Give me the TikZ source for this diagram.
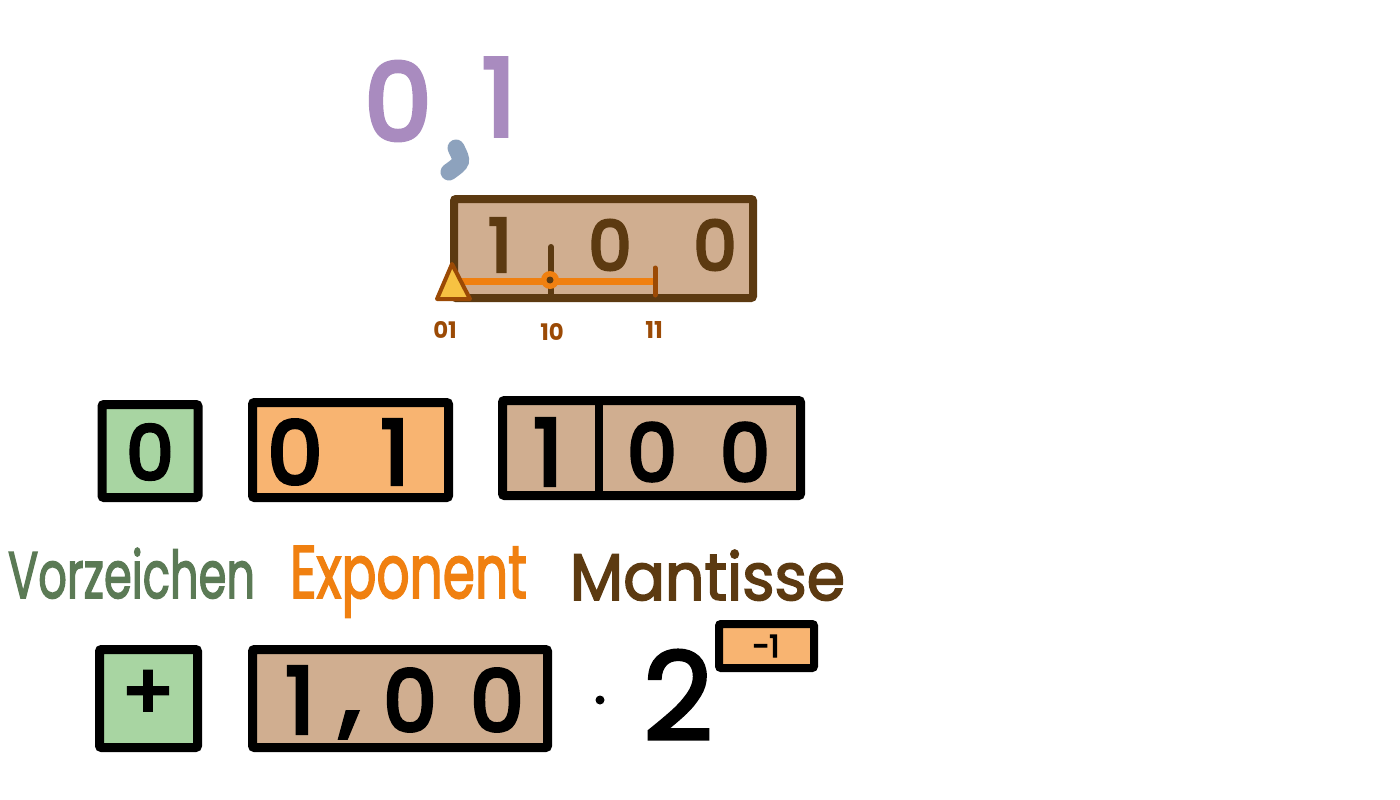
\documentclass[tikz,border=0pt]{standalone}
\usepackage{fontspec}
\setmainfont{Poppins}
\newfontfamily\hand[RawFeature={embolden=4.5}]{Poppins}
\newfontfamily\handt[RawFeature={embolden=2.5}]{Poppins}
\newfontfamily\handl[RawFeature={embolden=2.5}]{Poppins}
\usepackage{graphicx}
\definecolor{tanf}{HTML}{D0AE90}
\definecolor{brn}{HTML}{5C3A11}
\definecolor{orf}{HTML}{F8B471}
\definecolor{grf}{HTML}{A8D5A2}
\definecolor{org}{HTML}{F08010}
\definecolor{purp}{HTML}{A98BBF}
\definecolor{slate}{HTML}{8DA2BD}
\definecolor{vgreen}{HTML}{5B7A55}
\definecolor{rust}{HTML}{9B4A05}
\definecolor{ylw}{HTML}{F7C242}
\newcommand\dgh[2]{\resizebox{!}{#1pt}{\hand #2}}
\newcommand\lbl[3]{\resizebox{#1pt}{#2pt}{\handl #3}}
\tikzset{
  box/.style={draw=black, line width=9pt, rounded corners=2pt, inner sep=0pt},
  txt/.style={inner sep=0pt, outer sep=0pt},
}
\begin{document}
\begin{tikzpicture}[x=1pt,y=-1pt]
\useasboundingbox[fill=white] (0,0) rectangle (1400,800);

% ---- 0,1 ----
\node[txt, text=purp] (p0) at (398,101) {\dgh{78}{0}};
\node[txt, text=purp] (p1) at (499,97) {\dgh{77}{1}};
\draw[slate, line width=17pt, line cap=round] (456,148) .. controls (463,162) .. (449,172);

% ---- top mantissa box ----
\node[box, draw=brn, line width=8pt, fill=tanf, minimum width=299pt, minimum height=99pt] (tb) at (603.5,248.5) {};
\node[txt, text=brn] (t1) at (500,245) {\dgh{53}{1}};
\node[txt, text=brn] (t2) at (610,245) {\dgh{50}{0}};
\node[txt, text=brn] (t3) at (715,245) {\dgh{50}{0}};
\coordinate (tickA) at (551,247);
\coordinate (tickB) at (551,297);
\draw[brn, line width=6pt, line cap=round] (tickA) -- (tickB);
\coordinate (lineA) at (452,281);
\coordinate (lineB) at (655,281);
\draw[org, line width=7pt] (lineA) -- (lineB);
\draw[rust, line width=5pt, line cap=round] (655,268) -- (655,295);
\fill[org] (550,280) circle (9);
\fill[brn] (550,280) circle (3.5);
\draw[rust, line width=4pt, line join=round, fill=ylw] (452,264) -- (470,299) -- (437,299) -- cycle;
\node[txt, text=rust] (l01) at (445,330) {\resizebox{!}{17pt}{\bfseries 01}};
\node[txt, text=rust] (l10) at (552,332) {\resizebox{!}{17pt}{\bfseries 10}};
\node[txt, text=rust] (l11) at (654,330) {\resizebox{!}{17pt}{\bfseries 11}};

% ---- row 2 ----
\node[box, fill=grf, minimum width=96pt, minimum height=93pt] (sg) at (150,451) {};
\node[txt] (sg0) at (150,452) {\dgh{55}{0}};
\node[box, fill=orf, minimum width=196pt, minimum height=95pt] (ex) at (350.5,450) {};
\node[txt] (ex0) at (295,452) {\dgh{64}{0}};
\node[txt] (ex1) at (395,452) {\dgh{64}{1}};
\node[box, fill=tanf, minimum width=298pt, minimum height=95pt] (ma) at (651.5,448) {};
\draw[black, line width=8pt] (ma.north) ++(-53,0) coordinate (dA) -- ++(0,95) coordinate (dB);
\node[txt] (ma1) at (548,452) {\dgh{66}{1}};
\node[txt] (ma2) at (652,452) {\dgh{58}{0}};
\node[txt] (ma3) at (745,452) {\dgh{58}{0}};

% ---- labels ----
\node[txt, anchor=base west, text=vgreen] (lv) at (8,598) {\lbl{247}{50}{Vorzeichen}};
\node[txt, anchor=base west, text=org] (le) at (290,598) {\lbl{237}{52}{Exponent}};
\node[txt, anchor=base west, text=brn] (lm) at (570,600) {\lbl{275}{50}{Mantisse}};

% ---- row 3 ----
\node[box, fill=grf, minimum width=98pt, minimum height=98pt] (sg2) at (148.5,698.5) {};
\node[txt] (plus) at (148,695) {\resizebox{52pt}{!}{\hand +}};
\node[box, fill=tanf, minimum width=295pt, minimum height=98pt] (ma2b) at (400,698.5) {};
\node[txt] (r1) at (300,700) {\dgh{66}{1}};
\node[txt] (rc) at (350,725) {\resizebox{!}{12pt}{\hand ,}};
\node[txt] (r2) at (410,700) {\dgh{62}{0}};
\node[txt] (r3) at (497,700) {\dgh{62}{0}};
\fill[black] (600,700) circle (4.5);
\node[txt] (two) at (678,695) {\resizebox{!}{90pt}{\handt 2}};
\node[box, fill=orf, line width=8pt, minimum width=95pt, minimum height=44pt] (eb) at (766.5,646) {};
\node[txt] (em) at (766,646) {\dgh{22}{-1}};
\end{tikzpicture}
\end{document}
